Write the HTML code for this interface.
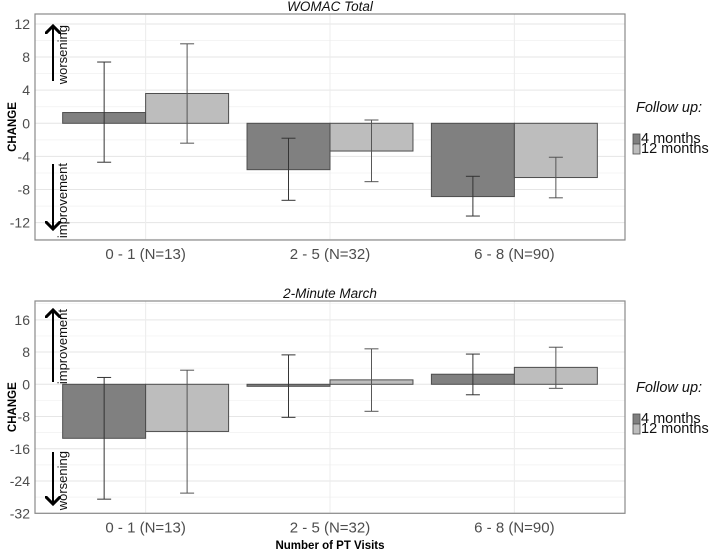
<!DOCTYPE html>
<html><head><meta charset="utf-8"><style>
body{margin:0;background:#fff}
svg{display:block;font-family:"Liberation Sans",sans-serif}
</style></head><body>
<svg id="chart" width="709" height="553" viewBox="0 0 709 553" xmlns="http://www.w3.org/2000/svg">
<defs><marker id="ah" markerWidth="8" markerHeight="8" refX="4" refY="4" orient="auto"><path d="M0,0 L4,4 L0,8" fill="none" stroke="#000" stroke-width="1.5"/></marker></defs>
</svg>
<script>
const categories = ["0 - 1 (N=13)", "2 - 5 (N=32)", "6 - 8 (N=90)"];
const seriesNames = ["4 months", "12 months"];
const womac4 = [1.3, -5.6, -8.85];
const womac4Lo = [-4.7, -9.3, -11.2];
const womac4Hi = [7.4, -1.8, -6.4];
const womac12 = [3.6, -3.35, -6.55];
const womac12Lo = [-2.4, -7.05, -9.0];
const womac12Hi = [9.6, 0.4, -4.1];
const march4 = [-13.4, -0.5, 2.5];
const march4Lo = [-28.5, -8.2, -2.6];
const march4Hi = [1.7, 7.3, 7.5];
const march12 = [-11.7, 1.1, 4.2];
const march12Lo = [-27, -6.7, -1.0];
const march12Hi = [3.5, 8.8, 9.2];
const womacTicks = [-12, -8, -4, 0, 4, 8, 12];
const marchTicks = [-32, -24, -16, -8, 0, 8, 16];

const svg = document.getElementById('chart');
const NS = "http://www.w3.org/2000/svg";
function mk(tag, attrs, parent, text){
  const e = document.createElementNS(NS, tag);
  for (const k in attrs) e.setAttribute(k, attrs[k]);
  if (text !== undefined) e.textContent = text;
  (parent || svg).appendChild(e);
  return e;
}
const colors = ["#808080", "#bdbdbd"];
const X0 = 35, X1 = 625;
const xScale = v => X0 + (v - 0.4) / 3.2 * (X1 - X0);

function panel(cfg){
  const g = mk('g', {});
  
  
  const y = v => cfg.zeroY - v * cfg.ppu;
  for (let v = cfg.min; v <= cfg.max + 1e-9; v += cfg.step / 2) {
    const l = mk('line', {x1: X0, x2: X1, y1: y(v), y2: y(v), stroke: "#f0f0f0", "stroke-width": 0.7}, g);
    
    
  }
  cfg.ticks.forEach(t => {
    const l = mk('line', {x1: X0, x2: X1, y1: y(t), y2: y(t), stroke: "#e6e6e6", "stroke-width": 1}, g);
    
    
    const tx = mk('text', {x: 30, y: y(t) + 5, "text-anchor": "end", "font-size": 14, fill: "#4d4d4d"}, g, String(t));
    
    
  });
  categories.forEach((c, i) => {
    const cx = xScale(i + 1);
    const l = mk('line', {x1: cx, x2: cx, y1: cfg.top, y2: cfg.bottom, stroke: "#ececec", "stroke-width": 1}, g);
    
    
    const t = mk('text', {x: cx, y: cfg.bottom + 19, "text-anchor": "middle", "font-size": 15, fill: "#4d4d4d"}, g, c);
    
    
  });
  const bw = 0.45 * (X1 - X0) / 3.2;
  [cfg.s4, cfg.s12].forEach((s, si) => {
    s.vals.forEach((v, i) => {
      const cx = xScale(i + 1);
      const left = si === 0 ? cx - bw : cx;
      const r = mk('rect', {x: left, y: Math.min(y(0), y(v)), width: bw, height: Math.abs(y(v) - y(0)), fill: colors[si], stroke: "#4d4d4d", "stroke-width": 1}, g);
      
      
    });
  });
  [cfg.s4, cfg.s12].forEach((s, si) => {
    s.vals.forEach((v, i) => {
      const ex = xScale(i + 1) + (si === 0 ? -bw / 2 : bw / 2);
      const eg = mk('g', {stroke: si === 0 ? "#333" : "#555", "stroke-width": 1}, g);
      
      
      mk('line', {x1: ex, x2: ex, y1: y(s.lo[i]), y2: y(s.hi[i])}, eg);
      mk('line', {x1: ex - 7, x2: ex + 7, y1: y(s.lo[i]), y2: y(s.lo[i])}, eg);
      mk('line', {x1: ex - 7, x2: ex + 7, y1: y(s.hi[i]), y2: y(s.hi[i])}, eg);
    });
  });
  const b = mk('rect', {x: X0, y: cfg.top, width: X1 - X0, height: cfg.bottom - cfg.top, fill: "none", stroke: "#8a8a8a", "stroke-width": 1.2}, g);
  
  
  const ti = mk('text', {x: 330, y: cfg.top - 3, "text-anchor": "middle", "font-size": 13.5, "font-style": "italic", fill: "#111"}, g, cfg.title);
  
  
  const yt = mk('text', {x: 0, y: 0, transform: `translate(16,${(cfg.top + cfg.bottom) / 2}) rotate(-90)`, "text-anchor": "middle", "font-size": 11.5, "font-weight": "bold", fill: "#000"}, g, "CHANGE");
  
  
  cfg.arrows.forEach(a => {
    const l = mk('line', {x1: 53, x2: 53, y1: a.from, y2: a.to, stroke: "#000", "stroke-width": 2, "marker-end": "url(#ah)"}, g);
    
    
    const t = mk('text', {x: 0, y: 0, transform: `translate(67,${Math.min(a.from, a.to) - 1}) rotate(-90)`, "text-anchor": "end", "font-size": 13, fill: "#111"}, g, a.label);
    
    
  });
  const lg = mk('g', {}, g);
  
  
  const lt = mk('text', {x: 636, y: cfg.legY, "font-size": 14.5, "font-style": "italic", fill: "#111"}, lg, "Follow up:");
  
  
  seriesNames.forEach((n, i) => {
    const ky = cfg.legY + 22 + i * 10;
    const k = mk('rect', {x: 633, y: ky, width: 7, height: 10, fill: colors[i], stroke: "#4d4d4d", "stroke-width": 0.8}, lg);
    
    
    const t = mk('text', {x: 641, y: ky + 9, "font-size": 14.5, fill: "#111"}, lg, n);
    
    
  });
}

panel({name: "womac-panel", title: "WOMAC Total", top: 14, bottom: 240, zeroY: 123.3, ppu: 8.28, min: -14, max: 12, step: 4, ticks: womacTicks,
  s4: {vals: womac4, lo: womac4Lo, hi: womac4Hi}, s12: {vals: womac12, lo: womac12Lo, hi: womac12Hi},
  arrows: [{from: 81, to: 26, label: "worsening"}, {from: 164, to: 229, label: "improvement"}], legY: 112});
panel({name: "march-panel", title: "2-Minute March", top: 301, bottom: 513.3, zeroY: 384.3, ppu: 4.03, min: -32, max: 20, step: 8, ticks: marchTicks,
  s4: {vals: march4, lo: march4Lo, hi: march4Hi}, s12: {vals: march12, lo: march12Lo, hi: march12Hi},
  arrows: [{from: 382, to: 310, label: "improvement"}, {from: 452, to: 504, label: "worsening"}], legY: 392});
const xt = mk('text', {x: 330, y: 549, "text-anchor": "middle", "font-size": 11.5, "font-weight": "bold", fill: "#000"}, svg, "Number of PT Visits");


</script>
</body></html>
